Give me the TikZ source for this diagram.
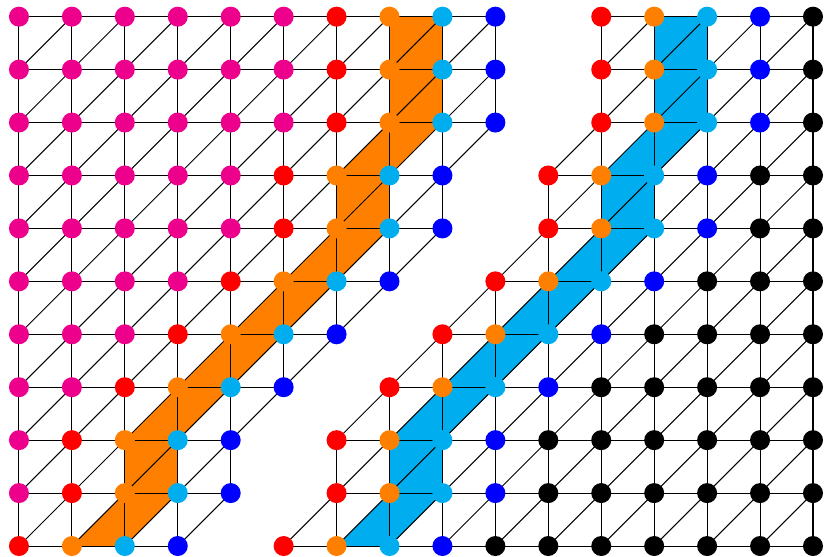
\documentclass[tikz,border=0pt]{standalone}
\definecolor{vmag}{HTML}{EC008C}
\definecolor{vred}{HTML}{FF0000}
\definecolor{vorange}{HTML}{FF8000}
\definecolor{vcyan}{HTML}{00AEEF}
\definecolor{vblue}{HTML}{0000FF}
\pgfdeclarelayer{bg}
\pgfsetlayers{bg,main}
\tikzset{
  vert/.style={circle, inner sep=0pt, minimum size=0.378cm, draw=none},
  edge/.style={line width=0.55pt, black},
}
\def\Rl{{0,1,1,2,3,4,5,5,6,6,6}}
\begin{document}
\begin{tikzpicture}
\useasboundingbox (-0.358,-0.194) rectangle (15.208,10.315);
% vertices
\foreach \j in {0,...,10}{
  \pgfmathtruncatemacro\r{\Rl[\j]}
  \pgfmathtruncatemacro\b{\r+3}
  \pgfmathtruncatemacro\l{\r+5}
  \foreach \i in {0,...,\b}{
    \pgfmathtruncatemacro\k{\i-\r}
    \ifnum\k<0 \def\col{vmag}\else\ifcase\k \def\col{vred}\or\def\col{vorange}\or\def\col{vcyan}\else\def\col{vblue}\fi\fi
    \node[vert, fill=\col] (L-\i-\j) at (\i,\j) {};
  }
  \foreach \i in {\l,...,15}{
    \pgfmathtruncatemacro\k{\i-\l}
    \ifcase\k \def\col{vred}\or\def\col{vorange}\or\def\col{vcyan}\or\def\col{vblue}\else\def\col{black}\fi
    \node[vert, fill=\col] (R-\i-\j) at (\i,\j) {};
  }
}
\begin{pgfonlayer}{bg}
% bands
\fill[vorange] (L-1-0.center) -- (L-2-1.center) -- (L-2-2.center) -- (L-3-3.center) -- (L-4-4.center) -- (L-5-5.center) -- (L-6-6.center) -- (L-6-7.center) -- (L-7-8.center) -- (L-7-9.center) -- (L-7-10.center) -- (L-8-10.center) -- (L-8-9.center) -- (L-8-8.center) -- (L-7-7.center) -- (L-7-6.center) -- (L-6-5.center) -- (L-5-4.center) -- (L-4-3.center) -- (L-3-2.center) -- (L-3-1.center) -- (L-2-0.center) -- cycle;
\fill[vcyan] (R-6-0.center) -- (R-7-1.center) -- (R-7-2.center) -- (R-8-3.center) -- (R-9-4.center) -- (R-10-5.center) -- (R-11-6.center) -- (R-11-7.center) -- (R-12-8.center) -- (R-12-9.center) -- (R-12-10.center) -- (R-13-10.center) -- (R-13-9.center) -- (R-13-8.center) -- (R-12-7.center) -- (R-12-6.center) -- (R-11-5.center) -- (R-10-4.center) -- (R-9-3.center) -- (R-8-2.center) -- (R-8-1.center) -- (R-7-0.center) -- cycle;
% horizontal edges
\foreach \j in {0,...,10}{
  \pgfmathtruncatemacro\r{\Rl[\j]}
  \pgfmathtruncatemacro\bm{\r+2}
  \pgfmathtruncatemacro\l{\r+5}
  \foreach \i [evaluate=\i as \ip using int(\i+1)] in {0,...,\bm}
    \draw[edge] (L-\i-\j.center) -- (L-\ip-\j.center);
  \foreach \i [evaluate=\i as \ip using int(\i+1)] in {\l,...,14}
    \draw[edge] (R-\i-\j.center) -- (R-\ip-\j.center);
}
% vertical and diagonal edges
\foreach \j in {0,...,9}{
  \pgfmathtruncatemacro\jp{\j+1}
  \pgfmathtruncatemacro\r{\Rl[\j]}
  \pgfmathtruncatemacro\rp{\Rl[\jp]}
  \pgfmathtruncatemacro\vm{min(\r+3,\rp+3)}
  \pgfmathtruncatemacro\dm{min(\r+3,\rp+2)}
  \pgfmathtruncatemacro\vs{max(\r+5,\rp+5)}
  \pgfmathtruncatemacro\ds{max(\r+5,\rp+4)}
  \foreach \i in {0,...,\vm}
    \draw[edge] (L-\i-\j.center) -- (L-\i-\jp.center);
  \foreach \i [evaluate=\i as \ip using int(\i+1)] in {0,...,\dm}
    \draw[edge] (L-\i-\j.center) -- (L-\ip-\jp.center);
  \foreach \i in {\vs,...,15}
    \draw[edge] (R-\i-\j.center) -- (R-\i-\jp.center);
  \foreach \i [evaluate=\i as \ip using int(\i+1)] in {\ds,...,14}
    \draw[edge] (R-\i-\j.center) -- (R-\ip-\jp.center);
}
\end{pgfonlayer}
\end{tikzpicture}
\end{document}
